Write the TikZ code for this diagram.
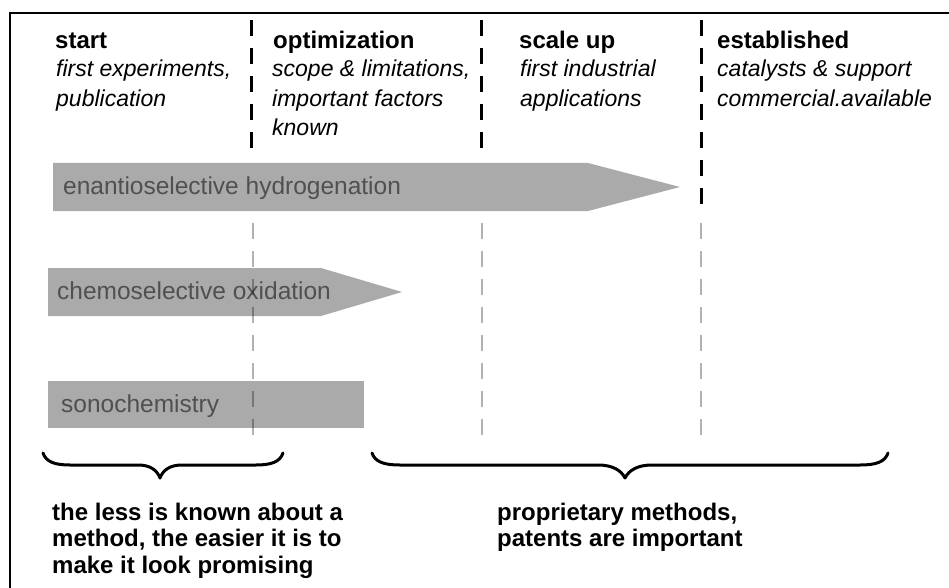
\documentclass[tikz,border=0pt]{standalone}
\usepackage{fontspec}
\setmainfont{Liberation Sans}
\definecolor{barfill}{RGB}{170,170,170}
\definecolor{bartext}{RGB}{80,80,80}
\begin{document}
\begin{tikzpicture}[x=1pt,y=-1pt,
  frame/.style={line width=2pt,black},
  phaseline/.style={line width=3pt,black,dash pattern=on 16pt off 12pt},
  guideline/.style={line width=2pt,black,opacity=0.3,dash pattern=on 16pt off 12pt},
  bar/.style={fill=barfill,draw=none},
  head/.style={anchor=base west,inner sep=0pt,font=\fontsize{24}{26}\selectfont\bfseries},
  sub/.style={anchor=base west,inner sep=0pt,font=\fontsize{23}{29.5}\selectfont\itshape,align=left},
  bartxt/.style={anchor=base west,inner sep=0pt,text=bartext,font=\fontsize{24.5}{26}\selectfont},
  note/.style={anchor=base west,inner sep=0pt,font=\fontsize{24}{26.5}\selectfont\bfseries,align=left},
  brace/.style={line width=3pt,black,line cap=round,line join=round}]
\useasboundingbox (0,0) rectangle (949,588);
\fill[white] (0,0) rectangle (949,588);
% frame
\draw[frame] (10,588) -- (10,13) -- (949,13);
% bars
\path[bar] (53,163) -- (588,163) -- (680,187) -- (588,211) -- (53,211) -- cycle;
\path[bar] (48,268) -- (321,268) -- (402,292) -- (321,316) -- (48,316) -- cycle;
\path[bar] (48,381) rectangle (364,428);
\node[bartxt] (hyd) at (63,194) {enantioselective hydrogenation};
\node[bartxt] (oxi) at (57,299) {chemoselective oxidation};
\node[bartxt] (son) at (61,412) {sonochemistry};
% phase lines
\coordinate (l1t) at (251,20); \coordinate (l1b) at (251,150);
\coordinate (l2t) at (481,20); \coordinate (l2b) at (481,150);
\coordinate (l3t) at (701,20); \coordinate (l3b) at (701,214);
\draw[phaseline] (l1t) -- (l1b);
\draw[phaseline] (l2t) -- (l2b);
\draw[phaseline] (l3t) -- (l3b);
\coordinate (g1t) at (253,223); \coordinate (g1b) at (253,440);
\coordinate (g2t) at (482,223); \coordinate (g2b) at (482,440);
\coordinate (g3t) at (701,223); \coordinate (g3b) at (701,440);
\draw[guideline] (g1t) -- (g1b);
\draw[guideline] (g2t) -- (g2b);
\draw[guideline] (g3t) -- (g3b);
% headers
\node[head] (h1) at (55,49) {start};
\node[head] (h2) at (273,49) {optimization};
\node[head] (h3) at (519,49) {scale up};
\node[head] (h4) at (717,49) {established};
\node[sub] (s1) at (56,106.5) {first experiments,\\publication};
\node[sub] (s2) at (272,136) {scope \& limitations,\\important factors\\known};
\node[sub] (s3) at (520,106.5) {first industrial\\applications};
\node[sub] (s4) at (717,106.5) {catalysts \& support\\commercial.available};
% braces
\draw[brace] (43,453) .. controls (46,462) and (55,465) .. (70,465) -- (138,465)
  .. controls (150,465) and (157,470) .. (160,478)
  .. controls (163,470) and (170,465) .. (182,465) -- (256,465)
  .. controls (271,465) and (280,462) .. (283,453);
\draw[brace] (372,453) .. controls (375,462) and (384,465) .. (400,465) -- (598,465)
  .. controls (612,465) and (621,470) .. (625,478)
  .. controls (629,470) and (638,465) .. (652,465) -- (860,465)
  .. controls (876,465) and (885,462) .. (888,453);
% notes
\node[note] (n1) at (52,573) {the less is known about a\\method, the easier it is to\\make it look promising};
\node[note] (n2) at (497,546.5) {proprietary methods,\\patents are important};
\end{tikzpicture}
\end{document}
